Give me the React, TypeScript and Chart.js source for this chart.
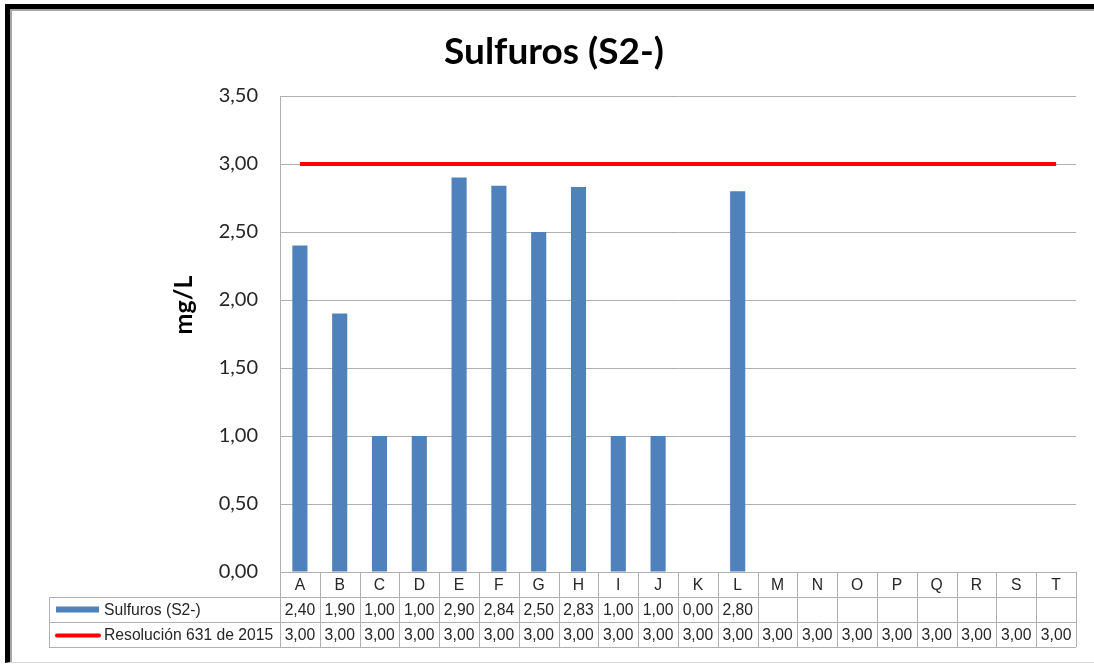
import React, { useEffect, useRef } from "react";
import { Chart, registerables } from "chart.js";

Chart.register(...registerables);

const chartTitle = "Sulfuros (S2-)";
const yAxisTitle = "mg/L";
const categories = ["A", "B", "C", "D", "E", "F", "G", "H", "I", "J", "K", "L", "M", "N", "O", "P", "Q", "R", "S", "T"];
const sulfurosLabel = "Sulfuros (S2-)";
const resolucionLabel = "Resolución 631 de 2015";
const sulfuros: (number | null)[] = [2.4, 1.9, 1.0, 1.0, 2.9, 2.84, 2.5, 2.83, 1.0, 1.0, 0.0, 2.8, null, null, null, null, null, null, null, null];
const resolucion: number[] = [3.0, 3.0, 3.0, 3.0, 3.0, 3.0, 3.0, 3.0, 3.0, 3.0, 3.0, 3.0, 3.0, 3.0, 3.0, 3.0, 3.0, 3.0, 3.0, 3.0];
const yMin = 0;
const yMax = 3.5;
const yStep = 0.5;

const fmt = (v: number) => v.toFixed(2).replace(".", ",");

const BAR_COLOR = "#4F81BD";
const LINE_COLOR = "#FF0000";
const GRID_COLOR = "#B0B0B0";
const TABLE_FONT = "15.7px 'Liberation Sans', Arial, sans-serif";
const TEXT_COLOR = "#262626";
const HEAD_FONT = "Lato, 'Open Sans', sans-serif";

const tablePlugin = {
  id: "dataTable",
  afterDraw(chart: any) {
    const { ctx, chartArea, scales } = chart;
    const xs = scales.x;
    const top = chartArea.bottom;
    const rowH = 25;
    const legendLeft = 49;
    const n = categories.length;
    const colW = (chartArea.right - chartArea.left) / n;
    ctx.save();
    ctx.strokeStyle = GRID_COLOR;
    ctx.lineWidth = 1;
    const line = (x1: number, y1: number, x2: number, y2: number) => {
      ctx.beginPath();
      ctx.moveTo(x1, y1);
      ctx.lineTo(x2, y2);
      ctx.stroke();
    };
    line(chartArea.left, Math.round(top) + 0.5, chartArea.right, Math.round(top) + 0.5);
    for (let r = 1; r <= 3; r++) {
      const y = Math.round(top + r * rowH) + 0.5;
      line(legendLeft, y, chartArea.right, y);
    }
    line(legendLeft + 0.5, top + rowH, legendLeft + 0.5, top + 3 * rowH);
    for (let i = 0; i <= n; i++) {
      const xi = Math.round(chartArea.left + i * colW) + 0.5;
      line(xi, top, xi, top + 3 * rowH);
    }
    ctx.font = TABLE_FONT;
    ctx.fillStyle = TEXT_COLOR;
    ctx.textAlign = "center";
    ctx.textBaseline = "middle";
    for (let i = 0; i < n; i++) {
      const xc = xs.getPixelForValue(i);
      ctx.fillText(categories[i], xc, top + rowH * 0.5 + 1);
      const s = sulfuros[i];
      if (s !== null && s !== undefined) ctx.fillText(fmt(s), xc, top + rowH * 1.5 + 1);
      ctx.fillText(fmt(resolucion[i]), xc, top + rowH * 2.5 + 1);
    }
    // legend keys
    ctx.fillStyle = BAR_COLOR;
    ctx.fillRect(56, top + rowH * 1.5 - 3, 43, 6);
    ctx.strokeStyle = LINE_COLOR;
    ctx.lineWidth = 4;
    ctx.lineCap = "round";
    line(57, top + rowH * 2.5 + 1, 99, top + rowH * 2.5 + 1);
    ctx.fillStyle = TEXT_COLOR;
    ctx.textAlign = "left";
    ctx.fillText(sulfurosLabel, 104, top + rowH * 1.5 + 1);
    ctx.fillText(resolucionLabel, 104, top + rowH * 2.5 + 1);

    // chart title
    ctx.fillStyle = "#000";
    ctx.textAlign = "center";
    ctx.textBaseline = "middle";
    ctx.font = `bold 37px ${HEAD_FONT}`;
    ctx.fillText(chartTitle, 554, 52);

    // y-axis title
    ctx.save();
    ctx.translate(184, 305);
    ctx.rotate(-Math.PI / 2);
    ctx.font = `bold 25px ${HEAD_FONT}`;
    ctx.fillText(yAxisTitle, 0, 0);
    ctx.restore();

    ctx.restore();
  },
};

export default function App() {
  const canvasRef = useRef<HTMLCanvasElement | null>(null);

  useEffect(() => {
    document.body.style.margin = "0";
    const canvas = canvasRef.current;
    if (!canvas) return;
    const chart = new Chart(canvas, {
      type: "bar",
      data: {
        labels: categories,
        datasets: [
          {
            type: "line",
            label: resolucionLabel,
            data: resolucion,
            borderColor: LINE_COLOR,
            backgroundColor: LINE_COLOR,
            borderWidth: 4,
            pointRadius: 0,
            tension: 0,
            order: 0,
          } as any,
          {
            type: "bar",
            label: sulfurosLabel,
            data: sulfuros,
            backgroundColor: BAR_COLOR,
            borderWidth: 0,
            barPercentage: 0.38,
            categoryPercentage: 1,
            order: 1,
          },
        ],
      },
      options: {
        responsive: false,
        animation: false,
        layout: { padding: { left: 160, right: 18, top: 96, bottom: 17 } },
        plugins: {
          legend: { display: false },
          tooltip: { enabled: false },
          title: { display: false },
        },
        scales: {
          x: {
            grid: { display: false },
            border: { display: false },
            ticks: { display: false },
            afterFit: (s: any) => {
              s.height = 75;
            },
          },
          y: {
            min: yMin,
            max: yMax,
            grid: { color: GRID_COLOR, drawTicks: false },
            border: { display: true, color: GRID_COLOR },
            ticks: {
              stepSize: yStep,
              color: TEXT_COLOR,
              padding: 22,
              font: { family: HEAD_FONT, size: 20 },
              callback: (v: any) => fmt(Number(v)),
            },
            afterFit: (s: any) => {
              s.width = 120;
            },
          },
        },
      },
      plugins: [tablePlugin],
    });
    return () => chart.destroy();
  }, []);

  return (
    <div style={{ position: "fixed", left: 0, top: 0, width: 1094, height: 664, background: "#fff", overflow: "hidden" }}>
      <div
        style={{
          position: "absolute",
          left: 5,
          top: 4,
          width: 1200,
          height: 659,
          borderTop: "5px solid #000",
          borderLeft: "5px solid #000",
          borderBottom: "1px solid #d9d9d9",
          boxShadow: "inset 2px 2px 0 #a6a6a6",
          boxSizing: "border-box",
        }}
      />
      <canvas ref={canvasRef} width={1094} height={664} style={{ position: "absolute", left: 0, top: 0, display: "block" }} />
    </div>
  );
}
